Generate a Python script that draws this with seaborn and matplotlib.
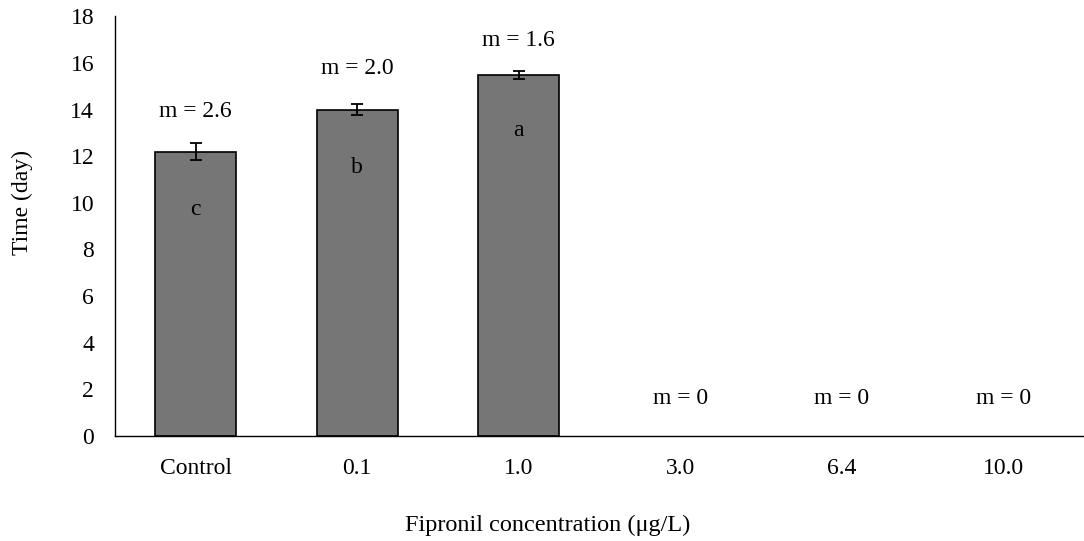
import matplotlib
matplotlib.use("Agg")
import matplotlib.pyplot as plt
import seaborn as sns
import pandas as pd

categories = ["Control", "0.1", "1.0", "3.0", "6.4", "10.0"]
values = [12.2, 14.0, 15.5, 0, 0, 0]
errors = [0.35, 0.25, 0.17, 0, 0, 0]
letters = ["c", "b", "a", "", "", ""]
letter_y = [9.7, 11.5, 13.1, 0, 0, 0]
m_labels = ["m = 2.6", "m = 2.0", "m = 1.6", "m = 0", "m = 0", "m = 0"]
m_y = [13.9, 15.75, 16.95, 1.6, 1.6, 1.6]

sns.set_theme(style="white")
plt.rcParams['font.family'] = ['Liberation Serif', 'DejaVu Serif']
plt.rcParams['text.color'] = 'black'
plt.rcParams['axes.labelcolor'] = 'black'
plt.rcParams['xtick.color'] = 'black'
plt.rcParams['ytick.color'] = 'black'

df = pd.DataFrame({"conc": categories, "time": values})

fig = plt.figure(figsize=(10.84, 5.41), dpi=100)
ax = fig.add_axes([0.106, 0.194, 0.894, 0.776])
sns.barplot(data=df, x="conc", y="time", order=categories, color="#767676",
            edgecolor="black", linewidth=1.2, width=0.5, saturation=1,
            errorbar=None, ax=ax)
for p in ax.patches:
    if p.get_height() == 0:
        p.set_visible(False)
for i, (v, e) in enumerate(zip(values, errors)):
    if v > 0:
        ax.errorbar(i, v, yerr=e, fmt="none", ecolor="black", elinewidth=1.3,
                    capsize=4, capthick=1.3)
    if letters[i]:
        ax.text(i, letter_y[i], letters[i], ha="center", va="center", fontsize=17)
    ax.text(i, m_y[i], m_labels[i], ha="center", va="center", fontsize=17)

ax.set_ylim(0, 18)
ax.set_xlim(-0.5, 5.5)
ax.set_yticks(range(0, 19, 2))
ax.tick_params(axis="both", labelsize=17, length=0)
ax.tick_params(axis="x", pad=16)
ax.tick_params(axis="y", pad=15)
ax.set_xlabel("Fipronil concentration (μg/L)", fontsize=17.5)
ax.set_ylabel("Time (day)", fontsize=17)
ax.xaxis.set_label_coords(0.447, -0.188)
ax.yaxis.set_label_coords(-0.084, 0.557)
for s in ["top", "right"]:
    ax.spines[s].set_visible(False)
for s in ["left", "bottom"]:
    ax.spines[s].set_color("black")
    ax.spines[s].set_linewidth(1.0)

fig.savefig("out.png", dpi=100)
